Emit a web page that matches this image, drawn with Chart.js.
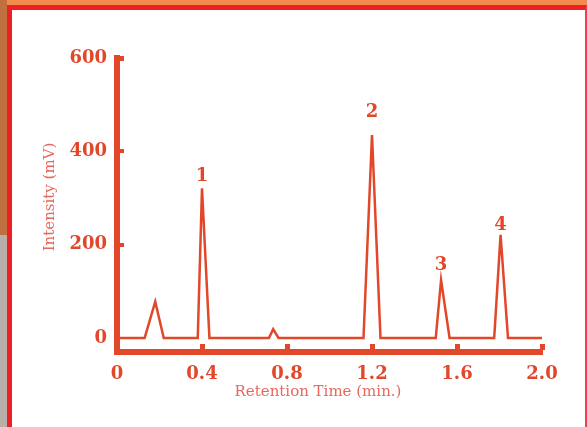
<!DOCTYPE html>
<html>
<head>
<meta charset="utf-8">
<script src="https://cdn.jsdelivr.net/npm/chart.js@4.4.1/dist/chart.umd.min.js"></script>
<style>
    html, body { margin: 0; padding: 0; }
    body { width: 587px; height: 427px; position: relative; overflow: hidden; background: #b8b0a8; }
    .band { position: absolute; left: 0; top: 0; width: 587px; height: 6px; background: #f28a4c; }
    .strip { position: absolute; left: 0; top: 0; width: 7px; height: 235px; background: #c0703f; }
    .panel {
        position: absolute; left: 7px; top: 5px; width: 580px; height: 422px;
        box-sizing: border-box; background: #fff;
        border-left: 5px solid #ee1f25; border-top: 5px solid #ee1f25; border-right: 2px solid #f04050;
    }
    #chromChart { position: absolute; left: 0; top: 0; }
</style>
</head>
<body>
<div class="band"></div>
<div class="strip"></div>
<div class="panel"></div>
<canvas id="chromChart" width="587" height="427"></canvas>
<script>
// chromatogram trace (retention time in min, intensity in mV)
const retentionTimes = [0, 0.13, 0.18, 0.22, 0.38, 0.40, 0.435, 0.715, 0.735, 0.76, 1.16, 1.20, 1.24, 1.50, 1.525, 1.565, 1.775, 1.805, 1.84, 2.0];
const intensities    = [0, 0,    78,   0,    0,    321,  0,     0,     19,    0,    0,    435,  0,    0,    124,   0,     0,     221,   0,    0];

// numbered peaks
const peakLabels = ['1', '2', '3', '4'];
const peakTimes = [0.40, 1.20, 1.525, 1.805];
const peakLabelLevels = [347, 484, 155, 241];

const yTickValues = [0, 200, 400, 600];
const xTitle = 'Retention Time (min.)';
const yTitle = 'Intensity (mV)';

const red = '#e2472a';
const titleRed = '#e5685e';
const tickFont = { family: 'DejaVu Serif', size: 18, weight: 'bold' };

const decorations = {
    id: 'decorations',
    afterDraw(chart) {
        const ctx = chart.ctx;
        const xs = chart.scales.x;
        const ys = chart.scales.y;
        const area = chart.chartArea;
        ctx.save();
        ctx.fillStyle = red;

        // inward tick marks
        xs.ticks.forEach(t => {
            if (t.value === 0) return;
            const px = xs.getPixelForValue(t.value);
            ctx.fillRect(Math.round(px) - 2, area.bottom - 8, 5, 6);
        });
        ys.ticks.forEach(t => {
            if (t.value === 0) return;
            const py = ys.getPixelForValue(t.value);
            if (t.value === 600) {
                ctx.fillRect(area.left - 3, Math.round(py) - 2, 10, 5);
            } else {
                ctx.fillRect(area.left, Math.round(py) - 2, 7, 4);
            }
        });

        // peak numbers
        ctx.font = 'bold 18px "DejaVu Serif"';
        ctx.textAlign = 'center';
        ctx.textBaseline = 'middle';
        peakLabels.forEach((lbl, i) => {
            ctx.fillText(lbl, xs.getPixelForValue(peakTimes[i]), ys.getPixelForValue(peakLabelLevels[i]));
        });

        // axis titles
        ctx.fillStyle = titleRed;
        ctx.font = '15px "DejaVu Serif"';
        ctx.fillText(xTitle, 318, 392);
        ctx.translate(50, 197);
        ctx.rotate(-Math.PI / 2);
        ctx.fillText(yTitle, 0, 0);
        ctx.restore();
    }
};

new Chart(document.getElementById('chromChart'), {
    type: 'line',
    data: {
        datasets: [{
            data: retentionTimes.map((t, i) => ({ x: t, y: intensities[i] })),
            borderColor: red,
            borderWidth: 2.5,
            pointRadius: 0,
            tension: 0,
            fill: false
        }]
    },
    options: {
        responsive: false,
        animation: false,
        layout: { padding: { top: 58, right: 45, bottom: 0, left: 0 } },
        plugins: { legend: { display: false }, tooltip: { enabled: false } },
        scales: {
            x: {
                type: 'linear',
                min: 0,
                max: 2.0,
                grid: { display: false, drawTicks: false },
                border: { display: true, color: red, width: 6 },
                ticks: {
                    stepSize: 0.4,
                    color: red,
                    font: tickFont,
                    padding: 12,
                    maxRotation: 0,
                    callback: v => v === 0 ? '0' : v.toFixed(1)
                },
                afterFit: s => { s.height = 75; }
            },
            y: {
                min: -30,
                max: 600,
                grid: { display: false, drawTicks: false },
                border: { display: true, color: red, width: 6 },
                afterBuildTicks: s => { s.ticks = yTickValues.map(v => ({ value: v })); },
                ticks: {
                    color: red,
                    font: tickFont,
                    padding: 10
                },
                afterFit: s => { s.width = 117; }
            }
        }
    },
    plugins: [decorations]
});
</script>
</body>
</html>
